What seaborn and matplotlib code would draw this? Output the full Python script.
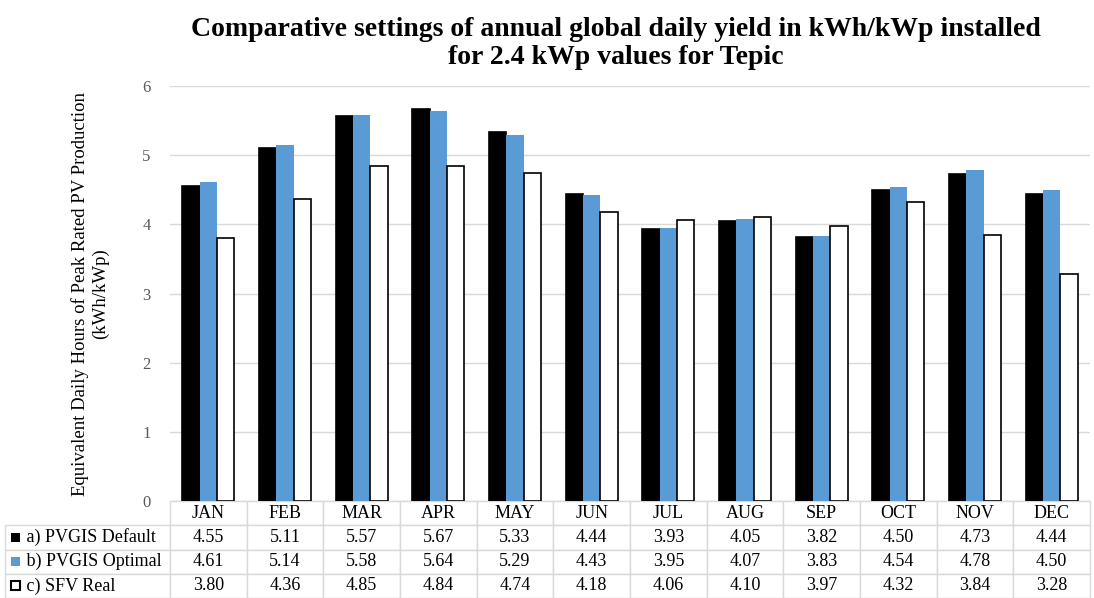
import numpy as np
import pandas as pd
import seaborn as sns
import matplotlib.pyplot as plt
from matplotlib.table import Table
from matplotlib.patches import Rectangle

months = ['JAN', 'FEB', 'MAR', 'APR', 'MAY', 'JUN', 'JUL', 'AUG', 'SEP', 'OCT', 'NOV', 'DEC']
pvgis_default = [4.55, 5.11, 5.57, 5.67, 5.33, 4.44, 3.93, 4.05, 3.82, 4.50, 4.73, 4.44]
pvgis_optimal = [4.61, 5.14, 5.58, 5.64, 5.29, 4.43, 3.95, 4.07, 3.83, 4.54, 4.78, 4.50]
sfv_real = [3.80, 4.36, 4.85, 4.84, 4.74, 4.18, 4.06, 4.10, 3.97, 4.32, 3.84, 3.28]
series = ['a) PVGIS Default', 'b) PVGIS Optimal', 'c) SFV Real']
colors = ['#000000', '#5B9BD5', '#FFFFFF']

data = pd.DataFrame({
    'month': months * 3,
    'value': pvgis_default + pvgis_optimal + sfv_real,
    'series': np.repeat(series, len(months)),
})

sns.set_style('white')
plt.rcParams['font.family'] = ['Liberation Serif', 'DejaVu Serif']
plt.rcParams['text.color'] = 'black'
plt.rcParams['axes.labelcolor'] = 'black'

fig = plt.figure(figsize=(10.94, 5.98), dpi=100)
ax = fig.add_axes([170 / 1094, 97 / 598, 920 / 1094, 415 / 598])

sns.barplot(data=data, x='month', y='value', hue='series', palette=colors,
            saturation=1, width=0.68, gap=0, legend=False, ax=ax, zorder=3)
# black outline on the black and white bars only
for i, cont in enumerate(ax.containers):
    for bar in cont:
        if i == 1:
            bar.set_edgecolor('none')
        else:
            bar.set_edgecolor('black')
            bar.set_linewidth(1.2)

ax.set_ylim(0, 6)
ax.set_xlim(-0.5, 11.5)
ax.set_yticks(range(7))
ax.yaxis.grid(True, color='#d9d9d9', linewidth=1, zorder=0)
ax.tick_params(axis='y', labelsize=12, labelcolor='#595959', length=0, pad=14)
ax.set_xticks([])
ax.set_xlabel('')
ax.set_ylabel('Equivalent Daily Hours of Peak Rated PV Production\n(kWh/kWp)',
              fontsize=13.5, labelpad=24, color='black')
for s in ax.spines.values():
    s.set_visible(False)

ax.set_title('Comparative settings of annual global daily yield in kWh/kWp installed\n'
             'for 2.4 kWp values for Tepic', fontsize=20, fontweight='bold', pad=16,
             linespacing=1.15, x=0.485, color='black')

# data table below the plot
lab_w = 165 / 920
tbl = Table(ax, bbox=[-lab_w, -97 / 415, 1 + lab_w, 97 / 415])
widths = [lab_w] + [1 / 12] * 12
rows = [[''] + months,
        [series[0]] + ['%.2f' % v for v in pvgis_default],
        [series[1]] + ['%.2f' % v for v in pvgis_optimal],
        [series[2]] + ['%.2f' % v for v in sfv_real]]
for r, row in enumerate(rows):
    for c, txt in enumerate(row):
        if c == 0 and txt:
            txt = ' ' + txt
        cell = tbl.add_cell(r, c, width=widths[c], height=0.25, text=txt,
                            loc='left' if c == 0 else 'center')
        cell.set_edgecolor('#d9d9d9')
        cell.set_linewidth(1)
        cell.get_text().set_fontsize(13)
        cell.get_text().set_color('black')
        if r == 0 and c == 0:
            cell.visible_edges = ''
tbl.auto_set_font_size(False)
ax.add_table(tbl)

# legend keys in the row labels
for i, col in enumerate(colors):
    yc = (-97 / 415) * ((1.5 + i) / 4)
    ax.add_patch(Rectangle((-lab_w + 6 / 920, yc - 4.5 / 415), 9 / 920, 9 / 415,
                           transform=ax.transAxes, clip_on=False,
                           facecolor=col, edgecolor='black', linewidth=1.5 if i == 2 else 0))

fig.savefig('out.png', dpi=100)
